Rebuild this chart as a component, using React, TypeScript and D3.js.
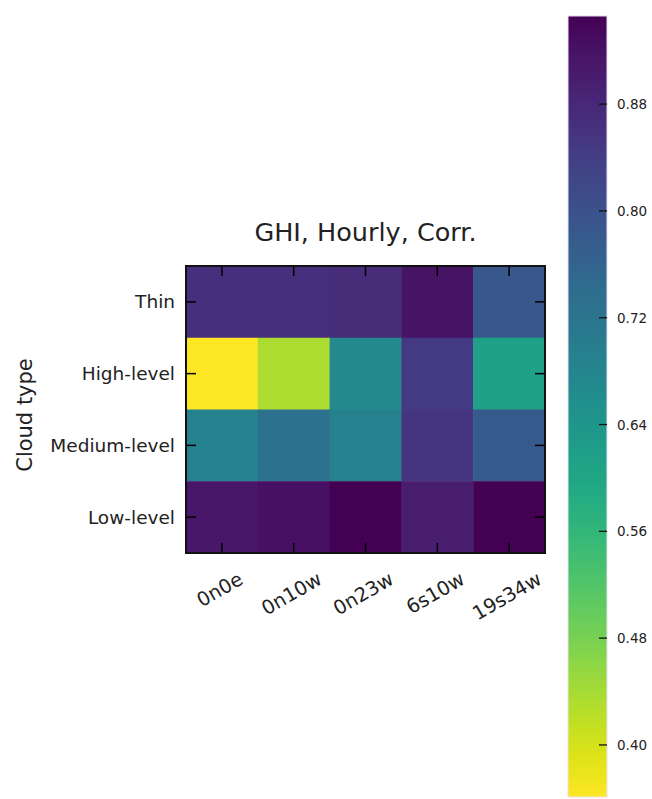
import React from 'react';
import * as d3 from 'd3';

const xCats = ['0n0e', '0n10w', '0n23w', '6s10w', '19s34w'];
const yCats = ['Thin', 'High-level', 'Medium-level', 'Low-level'];
const thinVals = [0.864, 0.865, 0.874, 0.917, 0.788];
const highVals = [0.361, 0.434, 0.671, 0.847, 0.613];
const mediumVals = [0.686, 0.727, 0.692, 0.855, 0.782];
const lowVals = [0.911, 0.923, 0.946, 0.899, 0.945];
const cbarTicks = [0.4, 0.48, 0.56, 0.64, 0.72, 0.8, 0.88];
const vmin = 0.361;
const vmax = 0.946;

const FONT = 'DejaVu Sans, sans-serif';

function measure(text: string, size: number): number {
  const c = document.createElement('canvas');
  const ctx = c.getContext('2d');
  if (!ctx) return text.length * size * 0.6;
  ctx.font = `${size}px "DejaVu Sans"`;
  return ctx.measureText(text).width;
}

export default function App() {
  const W = 652, H = 799;
  const left = 186, right = 545, top = 266, bottom = 553;
  const rows = [thinVals, highVals, mediumVals, lowVals];

  const x = d3.scaleBand<string>().domain(xCats).range([left, right]);
  const y = d3.scaleBand<string>().domain(yCats).range([top, bottom]);
  const color = d3.scaleSequential(d3.interpolateViridis).domain([vmax, vmin]);

  const cbX0 = 568, cbX1 = 607, cbTop = 16, cbBottom = 797;
  const cy = d3.scaleLinear().domain([vmin, vmax]).range([cbBottom, cbTop]);
  const stops = d3.range(0, 1.0001, 0.02);

  const tickLen = 10;
  const xFont = 19.5;

  return (
    <svg width={W} height={H} style={{ position: 'absolute', left: 0, top: 0, display: 'block', background: '#fff' }} fontFamily={FONT}>
      <defs>
        <linearGradient id="cbar" x1="0" y1="0" x2="0" y2="1">
          {stops.map((t, i) => (
            <stop key={i} offset={t} stopColor={d3.interpolateViridis(t)} />
          ))}
        </linearGradient>
      </defs>

      {/* cells */}
      {rows.map((row, ri) =>
        row.map((v, ci) => (
          <rect
            key={`${ri}-${ci}`}
            x={x(xCats[ci])}
            y={y(yCats[ri])}
            width={x.bandwidth() + 0.5}
            height={y.bandwidth() + 0.5}
            fill={color(v)}
          />
        ))
      )}

      {/* ticks */}
      {xCats.map((c) => {
        const cx = (x(c) as number) + x.bandwidth() / 2;
        return (
          <g key={c}>
            <line x1={cx} x2={cx} y1={bottom} y2={bottom - tickLen} stroke="#000" strokeWidth={1.5} />
            <line x1={cx} x2={cx} y1={top} y2={top + tickLen} stroke="#000" strokeWidth={1.5} />
          </g>
        );
      })}
      {yCats.map((c) => {
        const cyy = (y(c) as number) + y.bandwidth() / 2;
        return (
          <g key={c}>
            <line x1={left} x2={left + tickLen} y1={cyy} y2={cyy} stroke="#000" strokeWidth={1.5} />
            <line x1={right} x2={right - tickLen} y1={cyy} y2={cyy} stroke="#000" strokeWidth={1.5} />
            <text x={175} y={cyy} textAnchor="end" dominantBaseline="central" fontSize={18.5} fill="#222">
              {c}
            </text>
          </g>
        );
      })}

      {/* frame */}
      <rect x={left} y={top} width={right - left} height={bottom - top} fill="none" stroke="#111" strokeWidth={2} />

      {/* x labels rotated */}
      {xCats.map((c) => {
        const cx = (x(c) as number) + x.bandwidth() / 2;
        const L = measure(c, xFont);
        const h = xFont * 0.75;
        const bh = L * 0.5 + h * 0.866;
        const bw = L * 0.866 + h * 0.5;
        return (
          <text
            key={c}
            transform={`translate(${cx - 2},${571 + bh / 2}) rotate(-30)`}
            textAnchor="middle"
            dominantBaseline="central"
            fontSize={xFont}
            fill="#222"
            data-bw={bw}
          >
            {c}
          </text>
        );
      })}

      {/* y label */}
      <text transform={`translate(25,415) rotate(-90)`} textAnchor="middle" dominantBaseline="central" fontSize={21} fill="#222">
        Cloud type
      </text>

      {/* title */}
      <text x={(left + right) / 2} y={241} textAnchor="middle" fontSize={25.5} fill="#222">
        GHI, Hourly, Corr.
      </text>

      {/* colorbar */}
      <rect x={cbX0} y={cbTop} width={cbX1 - cbX0} height={cbBottom - cbTop} fill="url(#cbar)" stroke="#e8e0f0" strokeWidth={1} />
      {cbarTicks.map((t) => (
        <g key={t}>
          <line x1={cbX1 - 8} x2={cbX1} y1={cy(t)} y2={cy(t)} stroke="#111" strokeWidth={1.3} />
          <text x={617} y={cy(t)} dominantBaseline="central" fontSize={13.5} fill="#222">
            {t.toFixed(2)}
          </text>
        </g>
      ))}
    </svg>
  );
}
